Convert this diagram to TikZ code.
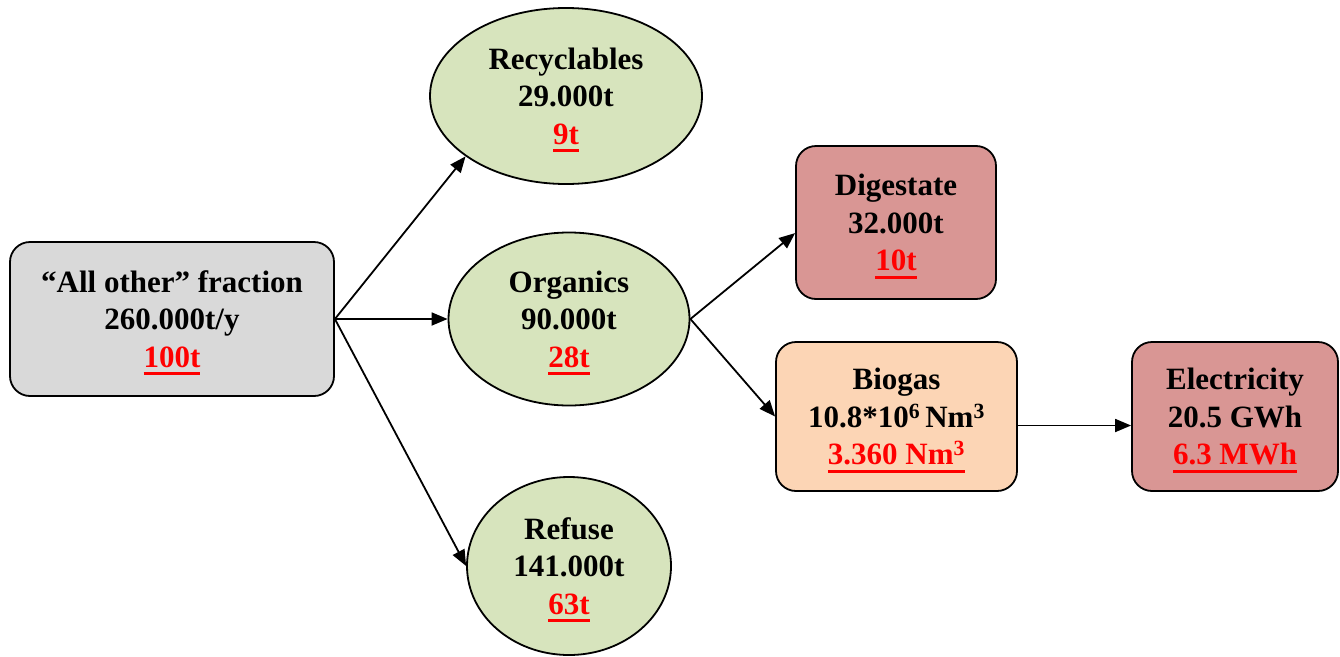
\documentclass[tikz,border=0pt]{standalone}
\usepackage{fontspec}
\setmainfont{Liberation Serif}
\usetikzlibrary{shapes.geometric,arrows.meta}

\definecolor{boxgray}{HTML}{D9D9D9}
\definecolor{boxgreen}{HTML}{D7E4BD}
\definecolor{boxrose}{HTML}{D99694}
\definecolor{boxpeach}{HTML}{FCD5B5}
\definecolor{hired}{HTML}{FF0000}

% red figure with a heavy underline
\newcommand{\redfig}[1]{{\color{hired}\setbox0\hbox{#1}\makebox[0pt][l]{\smash{\rule[-8pt]{\wd0}{3pt}}}\box0}}

\tikzset{
  lbl/.style={font=\fontsize{31}{37.5}\selectfont\bfseries, align=center, inner sep=0pt},
  rbox/.style={lbl, draw=black, line width=1.8pt, rectangle, rounded corners=20pt},
  oval/.style={lbl, draw=black, line width=1.8pt, ellipse, fill=boxgreen},
  flow/.style={line width=1.8pt, -{Triangle[length=16pt,width=13pt]}}
}

\begin{document}
\begin{tikzpicture}[x=1pt,y=-1pt]
\useasboundingbox (0,0) rectangle (1340,656);

\node[rbox, fill=boxgray, minimum width=324pt, minimum height=154pt] (src) at (172,319)
  {``All other'' fraction\\260.000t/y\\\redfig{100t}};

\node[oval, minimum width=272pt, minimum height=176pt] (rec) at (566,96)
  {Recyclables\\29.000t\\\redfig{9t}};
\node[oval, minimum width=241pt, minimum height=173pt] (org) at (569,319)
  {Organics\\90.000t\\\redfig{28t}};
\node[oval, minimum width=204pt, minimum height=178pt] (ref) at (569,566)
  {Refuse\\141.000t\\\redfig{63t}};

\node[rbox, fill=boxrose, minimum width=200pt, minimum height=153pt] (dig) at (896,222.5)
  {Digestate\\32.000t\\\redfig{10t}};
\node[rbox, fill=boxpeach, minimum width=241pt, minimum height=149pt] (bio) at (896.5,416.5)
  {Biogas\\10.8*10\textsuperscript{6}\,Nm\textsuperscript{3}\\\redfig{3.360 Nm\textsuperscript{3}}};
\node[rbox, fill=boxrose, minimum width=206pt, minimum height=149pt] (ele) at (1235,416.5)
  {Electricity\\20.5 GWh\\\redfig{6.3 MWh}};

\draw[flow] (src.east) -- (rec.211);
\draw[flow] (src.east) -- (org.west);
\draw[flow] (src.east) -- (ref.west);
\draw[flow] (org.east) -- (dig.186);
\draw[flow] (org.east) -- (bio.west);
\draw[flow] ([yshift=-9pt]bio.east) -- ([yshift=-9pt]ele.west);
\end{tikzpicture}
\end{document}
